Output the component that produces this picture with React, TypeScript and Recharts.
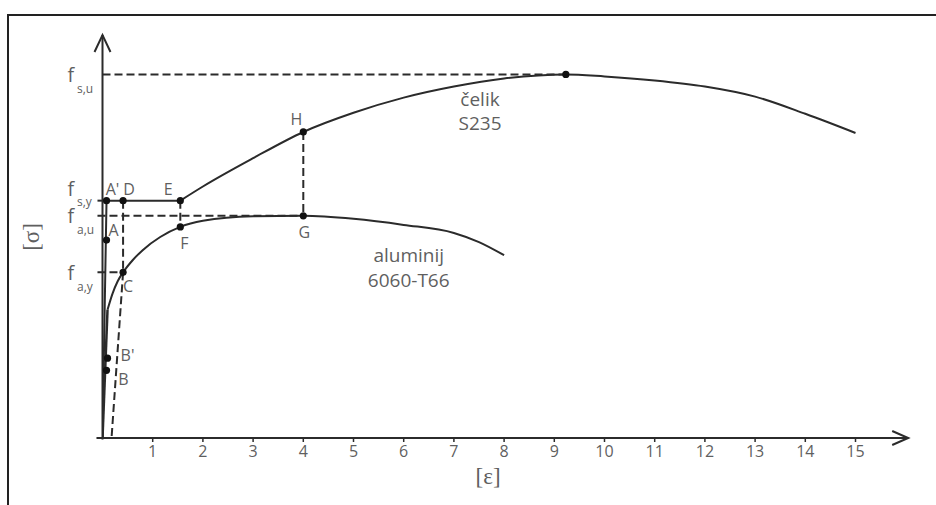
import React from 'react'
import {
  ComposedChart, Line, Scatter, XAxis, YAxis, ReferenceLine, ReferenceDot, Label,
} from 'recharts'

// strain [%] on x, stress [MPa] on y
const xTicks = [1, 2, 3, 4, 5, 6, 7, 8, 9, 10, 11, 12, 13, 14, 15]
const stressLevels = [164, 220, 235, 360]
const stressLevelNames = ['a,y', 'a,u', 's,y', 's,u']

const steelElastic = [
  { x: 0, y: 0 }, { x: 0.08, y: 235 }, { x: 1.55, y: 235 },
]
const steelHardening = [
  { x: 1.55, y: 235 }, { x: 2, y: 249 }, { x: 3, y: 277 }, { x: 4, y: 303 },
  { x: 5, y: 322 }, { x: 6, y: 337 }, { x: 7, y: 348 }, { x: 8, y: 356 },
  { x: 9.23, y: 360 }, { x: 10, y: 358 }, { x: 11, y: 354 }, { x: 12, y: 348 },
  { x: 13, y: 338 }, { x: 14, y: 321 }, { x: 15, y: 302 },
]
const aluElastic = [{ x: 0, y: 0 }, { x: 0.1, y: 127 }]
const aluCurve = [
  { x: 0.1, y: 127 }, { x: 0.2, y: 143 }, { x: 0.3, y: 155 }, { x: 0.41, y: 164 },
  { x: 0.6, y: 176 }, { x: 0.8, y: 186 }, { x: 1.15, y: 199 }, { x: 1.55, y: 209 },
  { x: 2, y: 215 }, { x: 3, y: 219.5 }, { x: 4, y: 220 }, { x: 5, y: 217 },
  { x: 6, y: 211 }, { x: 7, y: 203 }, { x: 7.5, y: 194 }, { x: 8, y: 181 },
]
const markedPoints = [
  { name: "A'", x: 0.08, y: 235 }, { name: 'D', x: 0.41, y: 235 },
  { name: 'E', x: 1.55, y: 235 }, { name: 'H', x: 4, y: 303 },
  { name: '', x: 9.23, y: 360 }, { name: 'A', x: 0.08, y: 196 },
  { name: 'C', x: 0.41, y: 164 }, { name: 'F', x: 1.55, y: 209 },
  { name: 'G', x: 4, y: 220 }, { name: "B'", x: 0.1, y: 79 },
  { name: 'B', x: 0.08, y: 67 },
]
// guide lines between marked points [x1, y1, x2, y2, dashed]
const guides: [number, number, number, number, boolean][] = [
  [0, 360, 9.23, 360, true],
  [-0.1, 220, 4, 220, true],
  [-0.1, 164, 0.41, 164, true],
  [-0.1, 235, 0, 235, false],
  [1.55, 235, 1.55, 209, true],
  [4, 303, 4, 220, true],
  [0.41, 235, 0.41, 164, true],
  [0.41, 164, 0.18, 0, true],
]

const INK = '#2b2b2b'
const TEXT = '#5f5f5f'
const FONT = '"Open Sans", sans-serif'
const SERIF = '"Liberation Serif", serif'

const labelOffset: Record<string, [number, number]> = {
  "A'": [6, -12], D: [6, -12], E: [-12, -12], H: [-7, -13], A: [7, -10],
  C: [5, 14], F: [4, 16], G: [1, 16], "B'": [20, -3], B: [17, 9],
}

function PointMark(props: any) {
  const { cx, cy, payload } = props
  const off = labelOffset[payload.name]
  return (
    <g>
      <circle cx={cx} cy={cy} r={3.6} fill="#111" />
      {off && (
        <text x={cx + off[0]} y={cy + off[1]} textAnchor="middle" dominantBaseline="central"
          fontSize={16} fill={TEXT} fontFamily={FONT}>
          {payload.name}
        </text>
      )}
    </g>
  )
}

// f with its subscript; f_s,y sits above its line because f_a,u is close below
const stressLabel = (name: string) => (p: any) => {
  const fBase = name === 's,y' ? -4.5 : 7.5
  const subBase = name === 's,y' ? 5.5 : 18.5
  return (
    <g fill={TEXT} fontFamily={FONT}>
      <text x={p.cx - 35} y={p.cy + fBase} fontSize={19.5}>f</text>
      <text x={p.cx - 25.5} y={p.cy + subBase} fontSize={12}>{name}</text>
    </g>
  )
}

const arrowRight = (p: any) => (
  <polyline points={`${p.cx - 16},${p.cy - 7} ${p.cx},${p.cy} ${p.cx - 16},${p.cy + 7}`}
    fill="none" stroke={INK} strokeWidth={2} />
)
const arrowUp = (p: any) => (
  <polyline points={`${p.cx - 8},${p.cy + 17} ${p.cx},${p.cy} ${p.cx + 8},${p.cy + 17}`}
    fill="none" stroke={INK} strokeWidth={2} />
)
const sigmaLabel = (p: any) => {
  const cx = p.cx - 71
  return (
    <text x={cx} y={p.cy} transform={`rotate(-90 ${cx} ${p.cy})`} textAnchor="middle"
      dominantBaseline="central" fontSize={23} fill={TEXT} fontFamily={SERIF}>[σ]</text>
  )
}
const materialText = (lines: string[], gap: number) => (p: any) => (
  <g fontFamily={FONT} fontSize={19} fill={TEXT} textAnchor="middle">
    {lines.map((t, i) => (
      <text key={i} x={p.cx} y={p.cy + i * gap}>{t}</text>
    ))}
  </g>
)

export default function App() {
  return (
    <div style={{ position: 'absolute', left: 0, top: 0, width: 936, height: 505, background: '#fff' }}>
      <div style={{
        position: 'absolute', left: 7, top: 14, width: 929, height: 491,
        borderTop: '2px solid #222', borderLeft: '2px solid #222', boxSizing: 'border-box',
      }} />
      <div style={{ position: 'absolute', left: 0, top: 0 }}>
        <ComposedChart width={936} height={505} margin={{ top: 34, right: 30.3, bottom: 37, left: 102.5 }}>
          <XAxis dataKey="x" type="number" domain={[0, 16]} allowDataOverflow ticks={xTicks}
            interval={0} axisLine={false} tickLine={{ stroke: INK, strokeWidth: 1.5 }} tickSize={4}
            tickMargin={4} height={30}
            tick={{ fontSize: 16, fill: TEXT, fontFamily: FONT }}>
            <Label value="[ε]" position="bottom" offset={0} dx={-16}
              style={{ fontSize: 23, fill: TEXT, fontFamily: SERIF }} />
          </XAxis>
          <YAxis type="number" domain={[0, 400]} allowDataOverflow hide width={0} />

          <ReferenceLine segment={[{ x: -0.12, y: 0 }, { x: 16.05, y: 0 }]} ifOverflow="visible"
            stroke={INK} strokeWidth={2} />
          <ReferenceLine segment={[{ x: 0, y: -1.5 }, { x: 0, y: 399 }]} ifOverflow="visible"
            stroke={INK} strokeWidth={2} />
          <ReferenceDot x={16.05} y={0} ifOverflow="visible" shape={arrowRight} />
          <ReferenceDot x={0} y={399} ifOverflow="visible" shape={arrowUp} />
          <ReferenceDot x={0} y={199} ifOverflow="visible" shape={sigmaLabel} />
          {stressLevels.map((v, i) => (
            <ReferenceDot key={`lv${i}`} x={0} y={v} ifOverflow="visible"
              shape={stressLabel(stressLevelNames[i])} />
          ))}

          {guides.map(([x1, y1, x2, y2, dashed], i) => (
            <ReferenceLine key={i} segment={[{ x: x1, y: y1 }, { x: x2, y: y2 }]} ifOverflow="visible"
              stroke={INK} strokeWidth={2} strokeDasharray={dashed ? '8 4' : undefined} />
          ))}

          <Line data={steelElastic} dataKey="y" type="linear" stroke={INK} strokeWidth={2}
            dot={false} activeDot={false} isAnimationActive={false} />
          <Line data={steelHardening} dataKey="y" type="monotone" stroke={INK} strokeWidth={2}
            dot={false} activeDot={false} isAnimationActive={false} />
          <Line data={aluElastic} dataKey="y" type="linear" stroke={INK} strokeWidth={2.5}
            dot={false} activeDot={false} isAnimationActive={false} />
          <Line data={aluCurve} dataKey="y" type="monotone" stroke={INK} strokeWidth={2}
            dot={false} activeDot={false} isAnimationActive={false} />
          <Scatter data={markedPoints} dataKey="y" shape={<PointMark />} isAnimationActive={false} />

          <ReferenceDot x={7.52} y={328.5} ifOverflow="visible" shape={materialText(['čelik', 'S235'], 24)} />
          <ReferenceDot x={6.1} y={174} ifOverflow="visible" shape={materialText(['aluminij', '6060-T66'], 25)} />
        </ComposedChart>
      </div>
    </div>
  )
}
